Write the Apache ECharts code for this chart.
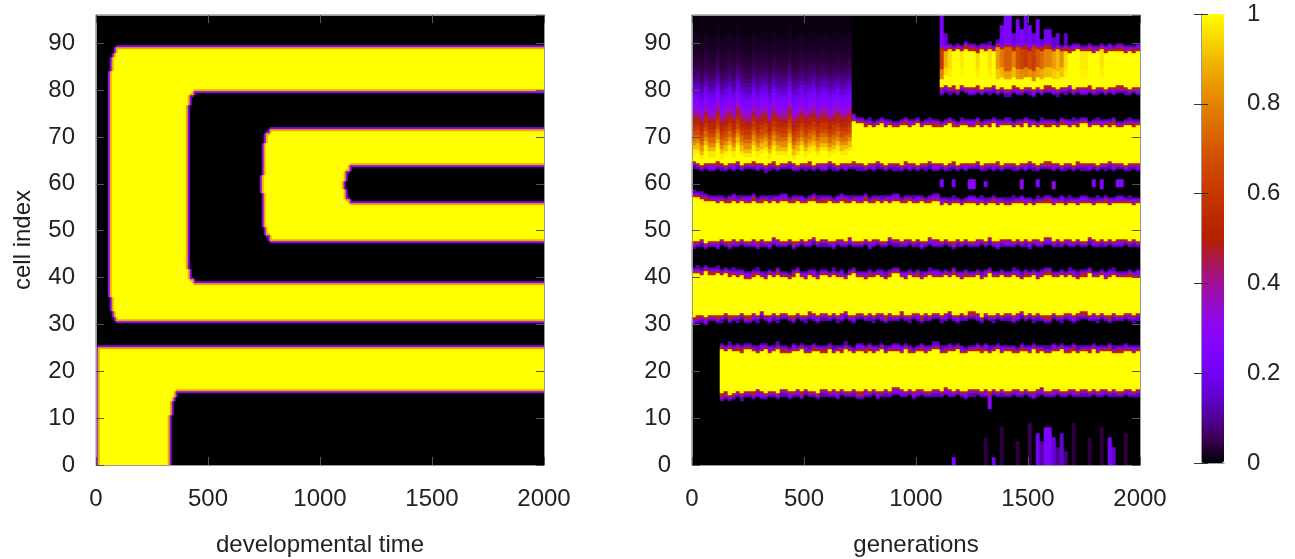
<!DOCTYPE html>
<html><head><meta charset="utf-8">
<script src="https://cdn.jsdelivr.net/npm/echarts@6/dist/echarts.min.js"></script>
<style>html,body{margin:0;padding:0;background:#fff}#c{width:1295px;height:559px}</style>
</head><body><div id="c"></div>
<script>
// ---------- axes ----------
const T_MAX = 2000, T_INTERVAL = 500;
const CELL_MAX = 96, CELL_INTERVAL = 10;
const LEFT_COLS = 224;   // columns of the left heatmap
const RIGHT_COLS = 112;  // columns of the right heatmap
const NROWS = 225;       // rows (sub-cell resolution) of both heatmaps
const SAMPLE_STEP = 20;  // generations between the band-edge samples below
const X_NAME_LEFT = 'developmental time';
const X_NAME_RIGHT = 'generations';
const Y_NAME = 'cell index';

// gnuplot default pm3d palette (rgbformulae 7,5,15), stops at 0,0.05,...,1
const PALETTE = ['#000000','#39004f','#510096','#6301ce','#7202f3','#8004ff','#8c07f3','#970bce','#a11096','#ab174f','#b42000','#bd2a00','#c63700','#ce4600','#d55700','#dd6c00','#e48300','#eb9d00','#f2ba00','#f9db00','#ffff00'];

// ---------- left panel: regions painted in order [cellLow, cellHigh, onsetTime, value, roundedFront] ----------
const LEFT_REGIONS = [
  [0, 25, 8, 1, 0],
  [0, 15.6, 330, 0, 1],
  [30.7, 89, 62, 1, 1],
  [38.8, 79.9, 408, 0, 1],
  [47.9, 71.8, 745, 1, 1],
  [55.9, 63.8, 1103, 0, 1]
];
// extra onset delay of a front vs. distance (cells) from the band edge
const FRONT_BOW = [28, 15, 10, 7, 5, 4, 3, 2, 1, 1, 0];
const EDGE_DARK = 0.3, EDGE_LIGHT = 0.88;

// ---------- right panel: band edges every 20 generations (100 samples) ----------
const B1_LO = Array(6).fill(null).concat([
 15.2,15.6,15.0,15.5,
 15.8,15.3,15.9,15.6,16.1,15.7,15.4,16,15.8,15.5,
 16.2,15.7,15.9,16.1,15.6,16.3,15.8,16,15.5,16.2,
 15.9,16.1,15.7,16.4,16,15.8,16.2,15.6,16.1,15.9,
 16.3,15.7,16,16.2,15.8,16.5,16.1,15.9,16.3,15.7,
 16.1,16.4,15.8,16,16.2,15.9,16.5,16.1,15.8,16.3,
 16,15.7,16.2,16.4,15.9,16.1,15.6,16.3,16,16.2,
 15.8,16.4,16.1,15.9,16.3,16,15.7,16.2,16.5,15.9,
 16.1,16.3,15.8,16,16.4,16.1,15.9,16.2,16,16.3,
 15.8,16.1,16.4,16,16.2,15.9,16.3,16.1,15.8,16.2]);
const B1_HI = Array(6).fill(null).concat([
 24.6,24.2,24.8,24.3,
 24.5,24.1,24.7,24.2,23.9,24.4,24.6,24,24.3,24.8,
 24.1,23.8,24.4,24.2,24.7,24,23.9,24.5,24.2,24.1,
 24.6,23.9,24.3,24.1,24.8,24.2,23.8,24.4,24.1,24.5,
 24,24.3,24.7,23.9,24.2,24.4,24,24.6,24.1,23.8,
 24.3,24.5,24,24.2,24.8,23.9,24.1,24.4,24.2,24.6,
 24,23.8,24.3,24.5,24.1,24.4,23.9,24.2,24.7,24,
 24.3,24.1,23.8,24.5,24.2,24,24.6,24.1,24.3,23.9,
 24.4,24.2,24.7,24,24.1,24.5,23.9,24.3,24.1,24.6,
 24,24.3,24.2,24.5,23.9,24.1,24.4,24.2,24,24.3]);
const B2_LO = [
 31.5,31.8,32,31.5,32.2,31.8,32,32.5,31.8,32.2,
 32,32.5,31.8,32.3,32,32.8,32.2,31.9,32.4,32,
 32.6,32.1,31.8,32.5,32.2,32,32.7,32.3,31.9,32.4,
 32.1,32.6,32,32.3,32.8,32.2,31.9,32.5,32.1,32.4,
 32,32.6,32.3,31.8,32.4,32.1,32.7,32.2,32,32.5,
 32.3,31.8,32.4,32.1,32.6,32,32.3,32.8,32.2,31.9,
 32.4,32.1,32.7,32.3,31.7,32.5,32.2,32,32.6,32.1,
 32.4,31.9,32.3,32.8,32.1,32.5,32,32.4,32.2,31.8,
 32.6,32.2,32,32.5,32.3,31.9,32.4,32.7,32.1,32.3,
 32,32.5,32.2,31.8,32.4,32.1,32.6,32.3,32,32.4];
const B2_HI = [
 40.8,41,40.6,41.2,40.7,41,40.5,40.8,40.3,40.6,
 40.2,40.5,39.8,40.3,40.6,40,39.7,40.4,40.1,40.7,
 40,39.6,40.3,40.8,40.1,39.8,40.5,40.2,39.7,40.4,
 40.1,40.6,39.9,40.2,39.6,40.4,40.8,40.1,39.8,40.3,
 40,40.5,40.2,39.7,40.3,40.9,40.1,39.8,40.4,40,
 40.3,39.7,40.1,40.6,40.2,39.9,40.4,40,40.7,40.1,
 39.8,40.3,40,40.5,39.7,40.2,40.8,40.1,39.9,40.4,
 40,40.6,40.2,39.7,40.3,40.1,40.5,39.8,40.2,40.7,
 40.1,39.9,40.4,40,40.6,40.2,39.7,40.3,40.9,40.1,
 40,40.4,39.8,40.2,40.6,40.1,39.9,40.3,40,40.2];
const B3_LO = [
 47.6,47.8,48.2,47.5,48,47.7,48.3,47.9,47.6,48.1,
 47.8,48.4,47.9,48.1,47.6,48.2,48,47.7,48.5,48.1,
 47.9,48.3,47.6,48,48.4,47.8,48.1,48.6,47.9,48.2,
 48,47.7,48.3,48.1,47.8,48.5,48,47.9,48.3,47.7,
 48.1,48.4,47.9,48,48.6,48.2,47.8,48.1,48.4,47.9,
 48.2,47.7,48,48.5,48.1,47.9,48.3,48,47.6,48.2,
 48,48.4,47.8,48.1,48.3,47.9,48.6,48,47.7,48.2,
 48.1,47.8,48.4,48,48.2,47.7,48.3,48.1,47.9,48.5,
 48,48.2,47.8,48.4,48.1,47.9,48.3,48,48.6,48.1,
 47.9,48.2,48,48.4,47.8,48.1,48.3,47.9,48.2,48];
const B3_HI = [
 57.2,57,56.8,56.5,56.3,56,56.2,55.8,56.1,56.4,
 55.9,56.2,56,56.5,55.8,56.1,56.3,55.9,56.2,56,
 56.4,55.8,56.1,56.3,56,55.7,56.2,56.5,55.9,56.1,
 56.3,55.8,56,56.4,56.1,55.9,56.2,56,56.5,55.8,
 56.1,56.3,55.9,56.2,56,56.4,55.8,56.1,56.3,55.9,
 56,56.2,55.7,56.1,56.4,55.6,55.8,55.5,55.9,55.7,
 55.4,55.8,56,55.6,55.9,55.5,55.7,56.1,55.6,55.8,
 55.5,55.9,55.7,56,55.6,55.8,55.4,55.9,55.7,56.1,
 55.6,55.8,56,55.5,55.9,55.7,55.6,56,55.8,55.5,
 55.9,55.7,56.1,55.6,55.8,56,55.7,55.9,55.6,55.8];
const B4_LO = [
 64.8,64.5,64.2,64.6,64.3,64.7,64.4,64.1,64.6,64.3,
 64.8,64.2,64.5,64.7,64.3,64.6,64,64.4,64.7,64.2,
 64.5,64.8,64.3,64.1,64.6,64.4,64.7,64.2,64.5,64.3,
 64.8,64.4,64.1,64.6,64.3,64.5,64.7,64.4,64.2,64.6,
 64.3,64.8,64.5,64.2,64.6,64.4,64.1,64.7,64.3,64.5,
 64.2,64.6,64.4,64.8,64.3,64.5,64.1,64.4,64.7,64.2,
 64.6,64.3,64.5,64.8,64.1,64.4,64.6,64.3,64.7,64.2,
 64.5,64.4,64.1,64.6,64.3,64.8,64.4,64.2,64.5,64.7,
 64.3,64.6,64.1,64.4,64.5,64.2,64.7,64.4,64.3,64.6,
 64.2,64.5,64.4,64.8,64.3,64.6,64.1,64.4,64.5,64.3];
const B4_HI = Array(36).fill(null).concat([
 73.5,72.8,
 72.3,72.6,72.1,72.4,72.8,72.2,72.5,72,72.4,72.7,
 72.2,72.5,72.9,72.1,72.4,72.6,72.3,72,72.5,72.8,
 72.3,72.1,72.6,72.4,72.2,72.7,72,72.5,72.3,72.8,
 72.2,72.4,72.6,72.1,72.5,72.3,72.9,72.2,72.4,72,
 72.6,72.3,72.5,72.1,72.7,72.4,72.2,72.6,72.3,72.8,
 72.1,72.4,72.6,72.2,72.5,72.3,72.7,72.1,72.4,72.6,
 72.3,72.5]);
// early (diffuse) state of band 4: value vs. cells above its lower edge
const EARLY_GLOW = [1,0.97,0.9,0.82,0.74,0.66,0.6,0.54,0.48,0.4,0.32,0.27,0.24,0.21,0.17,0.13,0.1,0.08,0.06,0.05,0.04,0.035,0.03,0.025,0.02,0.02,0.015,0.01];
const EARLY_SHIFT = [0.5,1,0,1.5,0.5,2,0,1,1.5,0.5,2,1,0,1.5,0.5,1,2,0,1.5,1,0.5,2,0,1,1.5,0.5,1,2,0.5,1.5,0,1,2,0.5,1,1.5];
const B5_LO = Array(55).fill(null).concat([
 80.5,81,80.6,80.9,80.4,81.1,80.7,80.5,80.9,80.3,
 80.8,80.6,81,80.4,80.7,80.2,80.9,80.5,80.3,80.8,
 80.6,80.1,80.7,80.4,80.9,80.5,80.2,80.8,80.6,81,
 80.4,80.7,80.5,80.9,80.3,80.6,80.8,80.4,80.7,80.5,
 80.9,80.6,80.3,80.8,80.5]);
const B5_HI = Array(55).fill(null).concat([
 88.8,88.4,88.6,88.2,88.7,88.3,88.9,88.5,88.1,88.6,
 88.4,88.8,88.2,89.2,88.7,89,88.5,89.1,88.6,88.9,
 88.4,89,88.7,88.5,88.9,88.3,88.6,88.2,88.5,88.1,
 88.4,88.7,88.2,88.5,88,88.3,88.6,88.1,88.4,88.2,
 88.5,88,88.3,88.1,88.4]);
const B5_TINT = Array(55).fill(null).concat([
 0.6,0.88,0.95,1,1,0.97,1,1,0.95,1,
 1,0.96,1,0.85,0.78,0.72,0.8,0.68,0.64,0.6,
 0.66,0.62,0.7,0.74,0.8,0.85,0.9,0.82,0.95,1,
 1,1,0.97,1,1,1,0.96,1,1,1,
 1,1,1,1,1]);
const FRINGE = [0.52, 0.27, 0.12];
// isolated streaks/specks [tStart, tEnd, cellLow, cellHigh, value]
const STREAKS = [
 [1100,1120,88,96,0.24],[1120,1140,88,92,0.16],
 [1380,1400,89,94,0.2],[1400,1420,89,96,0.24],[1420,1440,89,92,0.17],[1440,1460,89,95,0.22],
 [1460,1480,89,93,0.25],[1480,1500,89,96,0.2],[1500,1520,89,94,0.23],[1520,1540,89,92,0.18],
 [1540,1560,89,95,0.22],[1560,1580,89,91,0.15],[1580,1600,89,93,0.2],[1600,1620,89,91.5,0.15],
 [1620,1640,89,92,0.17],[1660,1680,90,92,0.15],
 [1100,1120,59.5,61,0.25],[1160,1180,59.5,61,0.22],[1240,1260,59,61,0.28],[1300,1320,59.5,60.5,0.22],
 [1460,1480,59,61,0.3],[1540,1560,59.5,61,0.25],[1600,1620,59,60.5,0.32],[1780,1800,59.5,61,0.25],
 [1820,1840,59,61,0.28],[1900,1920,59.5,61,0.25],
 [1160,1180,0,1.5,0.25],[1300,1320,0,6,0.04],[1320,1340,12,14.5,0.28],[1340,1360,0,1.5,0.2],
 [1380,1400,0,8,0.04],[1440,1460,0,5,0.04],[1500,1520,0,9,0.05],
 [1540,1560,0,7,0.2],[1560,1580,0,5,0.12],[1580,1600,0,8,0.24],[1600,1620,0,6,0.17],
 [1620,1640,0,4,0.1],[1640,1660,0,7,0.15],[1660,1680,0,3,0.08],
 [1700,1720,0,9,0.04],[1760,1780,0,6,0.04],[1820,1840,0,8,0.04],
 [1860,1880,0,6,0.22],[1880,1900,0,4,0.15],[1920,1940,0,7,0.04]
];

// ---------- build heatmap tables ----------
const ROW_STEP = CELL_MAX / NROWS;
const rowCenter = r => (r + 0.5) * ROW_STEP;

function buildLeft() {
  const dt = T_MAX / LEFT_COLS;
  const g = [];
  for (let c = 0; c < LEFT_COLS; c++) {
    const tMid = (c + 0.5) * dt;
    const col = [];
    for (let r = 0; r < NROWS; r++) {
      const y = rowCenter(r);
      let v = 0;
      LEFT_REGIONS.forEach(([lo, hi, t0, val, bow]) => {
        if (y < lo || y >= hi) return;
        let delay = 0;
        if (bow) {
          const d = lo === 0 ? hi - y : Math.min(y - lo, hi - y);
          delay = FRONT_BOW[Math.min(Math.floor(d), FRONT_BOW.length - 1)];
        }
        if (tMid >= t0 + delay) v = val;
      });
      col.push(v);
    }
    g.push(col);
  }
  const data = [];
  for (let c = 0; c < LEFT_COLS; c++) for (let r = 0; r < NROWS; r++) {
    let v = g[c][r];
    const nb = [g[c - 1] && g[c - 1][r], g[c + 1] && g[c + 1][r], g[c][r - 1], g[c][r + 1]].filter(x => x !== undefined);
    if (v === 0 && nb.includes(1)) v = EDGE_DARK;
    else if (v === 1 && nb.includes(0)) v = EDGE_LIGHT;
    data.push([c, r, v]);
  }
  return data;
}

function fringeVal(d) { const i = Math.floor(d / 0.5); return i < FRINGE.length ? FRINGE[i] : 0; }

function buildRight() {
  const dt = T_MAX / RIGHT_COLS;
  const bands = [[B1_LO, B1_HI], [B2_LO, B2_HI], [B3_LO, B3_HI], [B4_LO, B4_HI], [B5_LO, B5_HI]];
  const data = [];
  for (let c = 0; c < RIGHT_COLS; c++) {
    const tMid = (c + 0.5) * dt;
    const k = Math.floor(tMid / SAMPLE_STEP);
    for (let r = 0; r < NROWS; r++) {
      const y = rowCenter(r);
      let v = 0;
      bands.forEach(([L, H], bi) => {
        const lo = L[k], hi = H[k];
        if (lo == null) return;
        if (hi == null) {
          if (y < lo) v = Math.max(v, fringeVal(lo - y));
          else {
            const i = Math.max(0, Math.floor(y - lo - EARLY_SHIFT[k]));
            v = Math.max(v, EARLY_GLOW[Math.min(i, EARLY_GLOW.length - 1)]);
          }
          return;
        }
        if (y >= lo && y <= hi) {
          let bv = 1;
          if (bi === 4) {
            const tint = B5_TINT[k], up = y - lo;
            bv = up < 2 ? 1 : (up < 4 ? (1 + tint) / 2 : tint);
          }
          v = Math.max(v, bv);
        } else v = Math.max(v, fringeVal(y < lo ? lo - y : y - hi));
      });
      STREAKS.forEach(([s, e, lo, hi, val]) => {
        if (tMid >= s && tMid < e && y >= lo && y <= hi) v = Math.max(v, val);
      });
      data.push([c, r, v]);
    }
  }
  return data;
}

const LEFT_DATA = buildLeft(), RIGHT_DATA = buildRight();
const idx = n => Array.from({ length: n }, (_, i) => String(i));

const FONT = 'Liberation Sans, Arial, Helvetica, sans-serif';
const TXT = '#222';
const BORDER = '#9a9a9a';
const tickStyle = { show: true, inside: true, length: 8, lineStyle: { color: '#555', width: 1 } };
const lineStyle = { show: true, lineStyle: { color: BORDER, width: 1 } };
const plain = v => String(v);

function valX(grid, pos, name, labels) {
  return {
    type: 'value', gridIndex: grid, position: pos, min: 0, max: T_MAX, interval: T_INTERVAL, z: 10,
    name: name || '', nameLocation: 'middle', nameGap: 68,
    nameTextStyle: { fontFamily: FONT, fontSize: 24, color: TXT },
    axisLine: lineStyle, axisTick: tickStyle, splitLine: { show: false },
    axisLabel: { show: labels, margin: 22, formatter: plain, fontFamily: FONT, fontSize: 24, color: TXT }
  };
}
function valY(grid, pos, name, labels) {
  return {
    type: 'value', gridIndex: grid, position: pos, min: 0, max: CELL_MAX, interval: CELL_INTERVAL, z: 10,
    name: name || '', nameLocation: 'middle', nameGap: 61,
    nameTextStyle: { fontFamily: FONT, fontSize: 24, color: TXT },
    axisLine: lineStyle, axisTick: tickStyle, splitLine: { show: false },
    axisLabel: { show: labels, margin: 21, showMaxLabel: false, formatter: plain, fontFamily: FONT, fontSize: 24, color: TXT }
  };
}
const catAxis = (grid, pos, data) => ({ type: 'category', gridIndex: grid, position: pos, data, show: false });

const option = {
  animation: false,
  backgroundColor: '#fff',
  grid: [
    { left: 96, top: 15, width: 448, height: 450, outerBoundsMode: 'none', containLabel: false },
    { left: 692, top: 15, width: 448, height: 450, outerBoundsMode: 'none', containLabel: false },
    { left: 1201, top: 14, width: 23, height: 449, outerBoundsMode: 'none', containLabel: false }
  ],
  xAxis: [
    catAxis(0, 'bottom', idx(LEFT_COLS)),
    valX(0, 'bottom', X_NAME_LEFT, true),
    valX(0, 'top', '', false),
    catAxis(1, 'bottom', idx(RIGHT_COLS)),
    valX(1, 'bottom', X_NAME_RIGHT, true),
    valX(1, 'top', '', false),
    { type: 'value', gridIndex: 2, position: 'bottom', min: 0, max: 1, z: 10, axisLine: lineStyle, axisTick: { show: false }, axisLabel: { show: false }, splitLine: { show: false } },
    { type: 'value', gridIndex: 2, position: 'top', min: 0, max: 1, z: 10, axisLine: lineStyle, axisTick: { show: false }, axisLabel: { show: false }, splitLine: { show: false } }
  ],
  yAxis: [
    catAxis(0, 'left', idx(NROWS)),
    valY(0, 'left', Y_NAME, true),
    valY(0, 'right', '', false),
    catAxis(1, 'left', idx(NROWS)),
    valY(1, 'left', '', true),
    valY(1, 'right', '', false),
    { type: 'value', gridIndex: 2, position: 'right', min: 0, max: 1, interval: 0.2, z: 10,
      axisLine: lineStyle, splitLine: { show: false },
      axisTick: { show: true, inside: true, length: 7, lineStyle: { color: '#333' } },
      axisLabel: { margin: 23, fontFamily: FONT, fontSize: 24, color: TXT } },
    { type: 'value', gridIndex: 2, position: 'left', min: 0, max: 1, interval: 0.2, z: 10,
      axisLine: lineStyle, splitLine: { show: false },
      axisTick: { show: true, inside: true, length: 7, lineStyle: { color: '#333' } },
      axisLabel: { show: false } }
  ],
  visualMap: {
    type: 'continuous', min: 0, max: 1, dimension: 2, seriesIndex: [0, 1],
    show: true, calculable: false, orient: 'vertical', left: 1201, top: 14, padding: 0,
    itemWidth: 23, itemHeight: 449, text: null, hoverLink: false,
    inRange: { color: PALETTE }
  },
  series: [
    { type: 'heatmap', xAxisIndex: 0, yAxisIndex: 0, data: LEFT_DATA, progressive: 0, emphasis: { disabled: true }, itemStyle: { borderWidth: 0 } },
    { type: 'heatmap', xAxisIndex: 3, yAxisIndex: 3, data: RIGHT_DATA, progressive: 0, emphasis: { disabled: true }, itemStyle: { borderWidth: 0 } }
  ]
};
const chart = echarts.init(document.getElementById('c'), null, { renderer: 'canvas' });
chart.setOption(option);
</script></body></html>
